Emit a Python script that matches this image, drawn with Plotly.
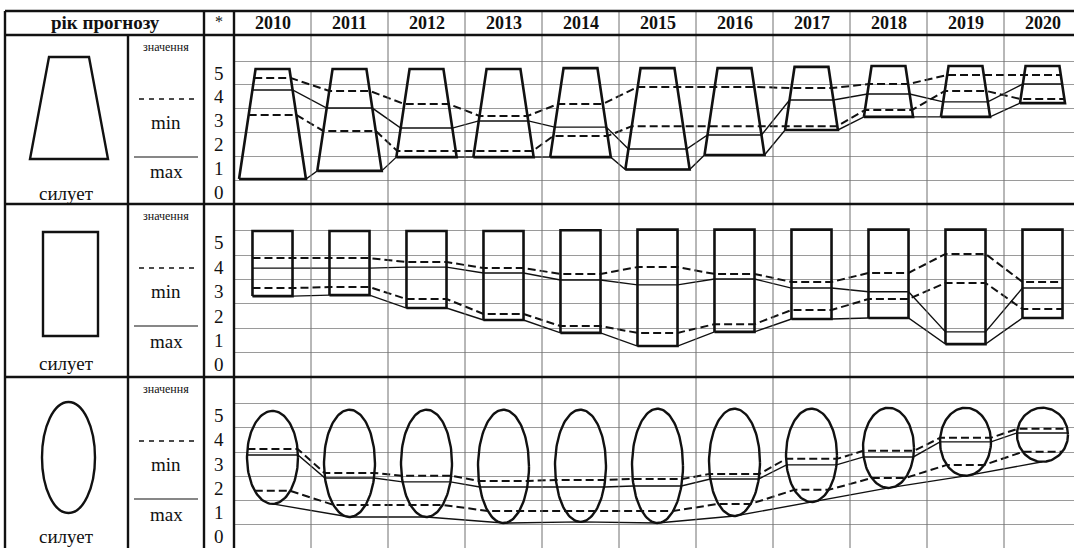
import numpy as np
import plotly.graph_objects as go

W, H = 1074, 548

# ---------------- data ----------------
years = ["2010", "2011", "2012", "2013", "2014", "2015", "2016", "2017", "2018", "2019", "2020"]
scale_labels = ["0", "1", "2", "3", "4", "5"]
header_label = "рік прогнозу"
star_label = "*"
legend_head = "значення"
legend_min = "min"
legend_max = "max"
silhouette_label = "силует"

# row 1 : trapezoids
trap_top = [5.17, 5.17, 5.17, 5.17, 5.21, 5.21, 5.21, 5.26, 5.30, 5.30, 5.30]
trap_bottom = [0.55, 0.89, 1.47, 1.47, 1.47, 0.95, 1.56, 2.61, 3.16, 3.16, 3.74]
trap_dash_hi = [4.79, 4.25, 3.70, 3.20, 3.70, 4.42, 4.42, 4.37, 4.54, 4.92, 4.92]
trap_solid = [4.29, 3.53, 2.69, 2.99, 2.73, 1.81, 2.40, 3.87, 4.12, 3.79, 4.54]
trap_dash_lo = [3.24, 2.57, 1.73, 1.73, 2.36, 2.77, 2.77, 2.77, 3.45, 4.25, 3.91]

# row 2 : rectangles
rect_top = [5.49, 5.49, 5.49, 5.49, 5.52, 5.55, 5.55, 5.55, 5.55, 5.55, 5.55]
rect_bottom = [2.82, 2.86, 2.33, 1.84, 1.31, 0.77, 1.35, 1.88, 1.92, 0.85, 1.92]
rect_dash_hi = [4.38, 4.38, 4.22, 3.97, 3.73, 4.01, 3.73, 3.40, 3.77, 4.55, 3.40]
rect_solid = [3.97, 3.97, 4.01, 3.77, 3.48, 3.28, 3.52, 3.15, 3.00, 1.35, 3.15]
rect_dash_lo = [3.15, 3.19, 2.70, 2.09, 1.59, 1.31, 1.67, 2.25, 2.70, 3.36, 2.29]

# row 3 : ellipses
ell_top = [5.20, 5.25, 5.25, 5.25, 5.25, 5.29, 5.29, 5.29, 5.33, 5.33, 5.33]
ell_bottom = [1.36, 0.82, 0.82, 0.57, 0.62, 0.57, 0.86, 1.44, 2.02, 2.52, 3.10]
ell_dash_hi = [3.63, 2.64, 2.52, 2.31, 2.35, 2.39, 2.60, 3.22, 3.55, 4.09, 4.46]
ell_solid = [3.38, 2.43, 2.27, 2.06, 2.06, 2.10, 2.39, 2.97, 3.30, 3.92, 4.29]
ell_dash_lo = [1.90, 1.32, 1.32, 1.07, 1.07, 1.07, 1.36, 1.94, 2.43, 2.97, 3.51]

# ---------------- geometry / style ----------------
def px(x):
    return x / W


def py(y):
    return 1 - y / H


COL = 77.0
X0 = 234
x_range = [-0.5, -0.5 + (W - X0) / COL]

TRAP_TOP_HW = 0.22
TRAP_SLOPE = 0.0464
RECT_HW = 0.26
ELL_RX = 0.331

INK = "#111111"
GRID = "#9a9a9a"
VGRID = "#707070"
FONT = "'Liberation Serif', 'Times New Roman', 'DejaVu Serif', serif"
DASH = "8px,4px"

fig = go.Figure()


def add_line(xs, ys, yaxis, width, dash="solid"):
    fig.add_trace(go.Scatter(
        x=xs, y=ys, xaxis="x", yaxis=yaxis, mode="lines",
        line=dict(color=INK, width=width, dash=dash),
        hoverinfo="skip", showlegend=False,
    ))


def series_xy(values, hw):
    xs, ys = [], []
    for k, v in enumerate(values):
        h = hw(k, v)
        xs += [k - h, k + h]
        ys += [v, v]
    return xs, ys


# ---- row 1 : trapezoids ----
def trap_hw(k, v):
    return TRAP_TOP_HW + TRAP_SLOPE * (trap_top[k] - v)


for k in range(len(years)):
    t, b = trap_top[k], trap_bottom[k]
    ht, hb = trap_hw(k, t), trap_hw(k, b)
    add_line([k - hb, k - ht, k + ht, k + hb, k - hb], [b, t, t, b, b], "y", 2.6)
xs, ys = series_xy(trap_bottom, trap_hw)
add_line(xs, ys, "y", 1.4)
for vals, dash, wd in [(trap_dash_hi, DASH, 2.0), (trap_solid, "solid", 1.4), (trap_dash_lo, DASH, 2.0)]:
    xs, ys = series_xy(vals, trap_hw)
    add_line(xs, ys, "y", wd, dash)


# ---- row 2 : rectangles ----
def rect_hw(k, v):
    return RECT_HW


for k in range(len(years)):
    t, b = rect_top[k], rect_bottom[k]
    add_line([k - RECT_HW, k - RECT_HW, k + RECT_HW, k + RECT_HW, k - RECT_HW], [b, t, t, b, b], "y2", 2.6)
xs, ys = series_xy(rect_bottom, rect_hw)
add_line(xs, ys, "y2", 1.4)
for vals, dash, wd in [(rect_dash_hi, DASH, 2.0), (rect_solid, "solid", 1.4), (rect_dash_lo, DASH, 2.0)]:
    xs, ys = series_xy(vals, rect_hw)
    add_line(xs, ys, "y2", wd, dash)


# ---- row 3 : ellipses ----
def ell_hw(k, v):
    cy = (ell_top[k] + ell_bottom[k]) / 2
    ry = (ell_top[k] - ell_bottom[k]) / 2
    r = (v - cy) / ry
    return ELL_RX * np.sqrt(max(0.0, 1 - r * r))


tt = np.linspace(0, 2 * np.pi, 120)
for k in range(len(years)):
    cy = (ell_top[k] + ell_bottom[k]) / 2
    ry = (ell_top[k] - ell_bottom[k]) / 2
    add_line(list(k + ELL_RX * np.cos(tt)), list(cy + ry * np.sin(tt)), "y3", 2.4)
add_line(list(range(len(years))), ell_bottom, "y3", 1.4)
for vals, dash, wd in [(ell_dash_hi, DASH, 2.0), (ell_solid, "solid", 1.4), (ell_dash_lo, DASH, 2.0)]:
    xs, ys = series_xy(vals, ell_hw)
    add_line(xs, ys, "y3", wd, dash)

# ---------------- layout ----------------
row_tops = [35, 204, 377]
row_bottoms = [204, 377, H]
y_lo = [-0.5, -0.5, -0.46]
grid_vals = [i + 0.5 for i in range(len(scale_labels))]

layout = dict(
    width=W, height=H, margin=dict(l=0, r=0, t=0, b=0),
    paper_bgcolor="white", plot_bgcolor="white", showlegend=False,
    font=dict(family=FONT, color=INK),
    xaxis=dict(domain=[px(X0), 1], range=x_range, showgrid=False, zeroline=False,
               showticklabels=False, ticks="", showline=False, anchor="y3", fixedrange=True),
)
for i, name in enumerate(["yaxis", "yaxis2", "yaxis3"]):
    layout[name] = dict(
        domain=[py(row_bottoms[i]) if row_bottoms[i] < H else 0, py(row_tops[i])],
        range=[y_lo[i], 6.6], tickvals=grid_vals, showgrid=True, gridcolor=GRID, gridwidth=1,
        zeroline=False, showticklabels=False, ticks="", showline=False, anchor="x", fixedrange=True,
    )
fig.update_layout(**layout)

shapes = []
# vertical year separators (through header and all rows)
for k in range(len(years) - 1):
    shapes.append(dict(type="line", xref="x", yref="paper", x0=k + 0.5, x1=k + 0.5,
                       y0=0, y1=py(11), line=dict(color=VGRID, width=1)))
# table borders
for (x0, y0, x1, y1) in [(5, 11, W, 11), (5, 35, W, 35), (5, 204, W, 204), (5, 377, W, 377),
                         (5, 11, 5, H), (128, 35, 128, H), (204, 11, 204, H), (234, 11, 234, H)]:
    shapes.append(dict(type="line", xref="paper", yref="paper", x0=px(x0), x1=px(x1),
                       y0=py(y0), y1=py(y1), line=dict(color=INK, width=2.4)))
# legend marks in each row
for rt in row_tops:
    shapes.append(dict(type="line", xref="paper", yref="paper", x0=px(139), x1=px(194),
                       y0=py(rt + 64), y1=py(rt + 64), line=dict(color=INK, width=1.5, dash="5px,5px")))
    shapes.append(dict(type="line", xref="paper", yref="paper", x0=px(134), x1=px(198),
                       y0=py(rt + 122), y1=py(rt + 122), line=dict(color=INK, width=1.2)))
# silhouettes
trap_path = "M {} {} L {} {} L {} {} L {} {} Z".format(px(49), py(57), px(89), py(57), px(108), py(159), px(30), py(159))
shapes.append(dict(type="path", xref="paper", yref="paper", path=trap_path, line=dict(color=INK, width=2.4)))
shapes.append(dict(type="rect", xref="paper", yref="paper", x0=px(43), x1=px(98), y0=py(336), y1=py(232),
                   line=dict(color=INK, width=2.4)))
shapes.append(dict(type="circle", xref="paper", yref="paper", x0=px(42), x1=px(95), y0=py(513), y1=py(402),
                   line=dict(color=INK, width=2.4)))
fig.update_layout(shapes=shapes)


def label(text, x, y, size, xref="paper", yref="paper"):
    return dict(text=text, x=x, y=y, xref=xref, yref=yref, xanchor="center", yanchor="middle",
                showarrow=False, font=dict(family=FONT, size=size, color=INK))


ann = [label("<b>" + header_label + "</b>", px(105), py(23), 19),
       label(star_label, px(219), py(21), 16)]
for k, yr in enumerate(years):
    ann.append(label("<b>" + yr + "</b>", k, py(23), 18, xref="x"))
for i, rt in enumerate(row_tops):
    yref = ["y", "y2", "y3"][i]
    ann.append(label(legend_head, px(166), py(rt + 12), 12))
    ann.append(label(legend_min, px(166), py(rt + 87), 19))
    ann.append(label(legend_max, px(166), py(rt + 137), 19))
    ann.append(label(silhouette_label, px(66), py(rt + 159), 19))
    for v, lab in enumerate(scale_labels):
        ann.append(label(lab, px(219), v, 19, yref=yref))
fig.update_layout(annotations=ann)

fig.write_html("out.html", config={"displayModeBar": False},
               post_script="document.body.style.margin='0';document.body.style.overflow='hidden';")
